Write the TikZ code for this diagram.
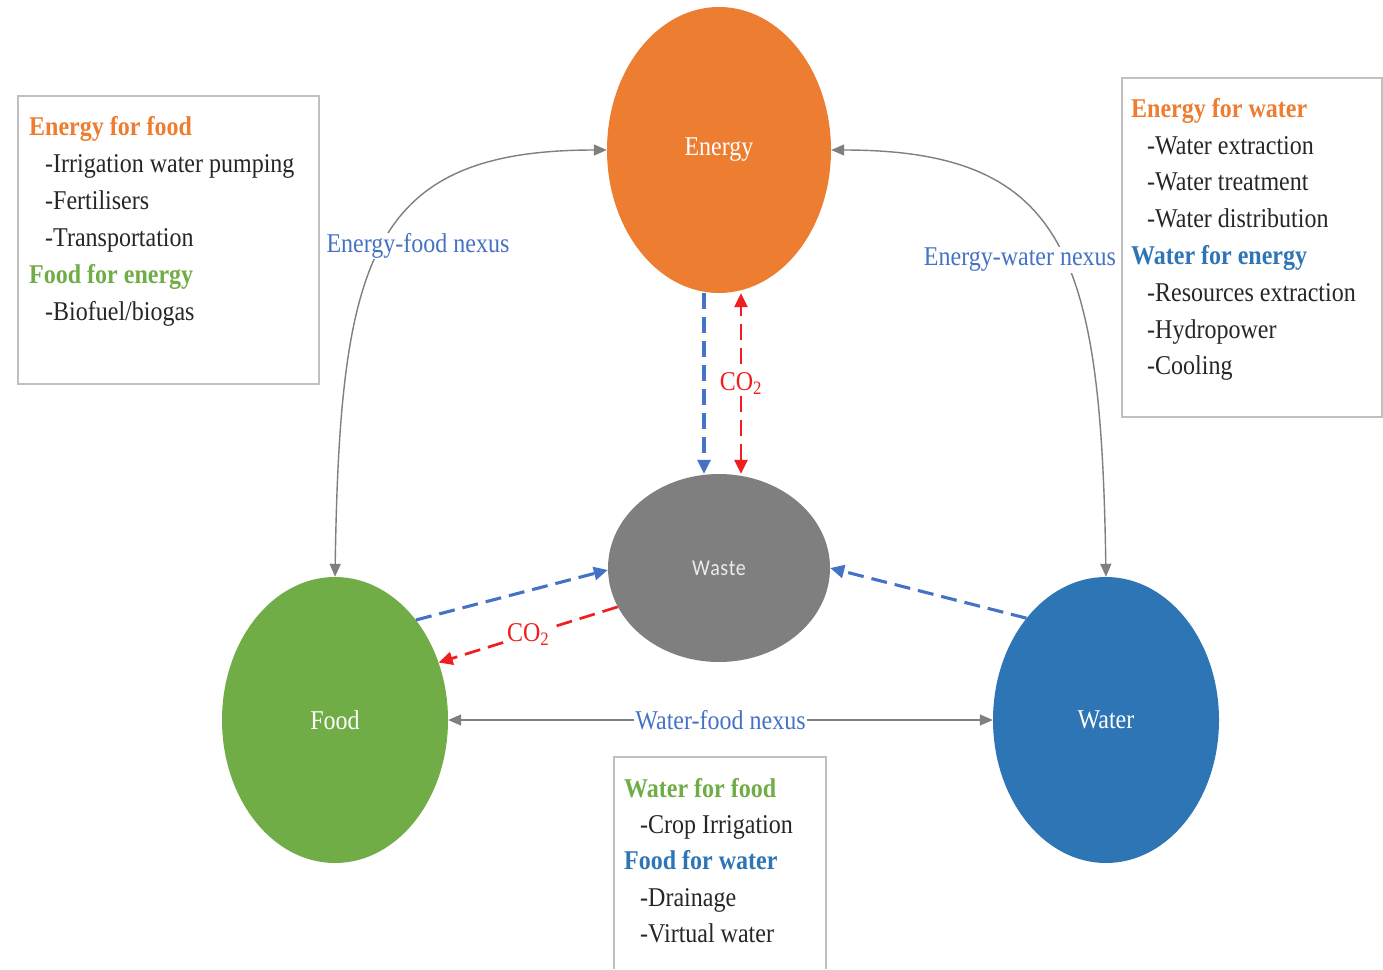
\documentclass[tikz,border=0pt]{standalone}
\usepackage{fontspec}
\usepackage{graphicx}
\setmainfont{Liberation Serif}
\newfontfamily\wastefont{Carlito}
\usetikzlibrary{shapes.geometric,arrows.meta}
\definecolor{cEnergy}{HTML}{ED7D31}
\definecolor{cFood}{HTML}{70AD47}
\definecolor{cWater}{HTML}{2E75B6}
\definecolor{cWaste}{HTML}{7F7F7F}
\definecolor{cLink}{HTML}{4472C4}
\definecolor{cRed}{HTML}{F01E1E}
\definecolor{cGrayLine}{HTML}{7F7F7F}
\definecolor{cBox}{HTML}{C0C0C0}
\definecolor{cTxt}{HTML}{262626}
\newcommand{\vs}[1]{\scalebox{1}[1.13]{#1}}
\tikzset{
  hub/.style={ellipse, inner sep=0pt, font=\fontsize{24}{28}\selectfont, text=white},
  nexus/.style={draw=cGrayLine, line width=1.4pt, {Triangle[length=13pt,width=11pt]}-{Triangle[length=13pt,width=11pt]}},
  bluedash/.style={draw=cLink, line width=3.1pt, dash pattern=on 16pt off 8pt, -{Triangle[length=14pt,width=13pt]}},
  reddash/.style={draw=cRed, line width=2.7pt, dash pattern=on 16pt off 8pt},
  redtip/.style={-{Triangle[length=14pt,width=13pt]}},
  redtips/.style={{Triangle[length=14pt,width=13pt]}-{Triangle[length=14pt,width=13pt]}},
  lbl/.style={fill=white, inner sep=1pt, text=cLink, font=\fontsize{24}{28}\selectfont},
  co2/.style={fill=white, inner sep=1pt, text=cRed, font=\fontsize{24}{28}\selectfont},
  boxframe/.style={draw=cBox, line width=1.5pt},
  boxtext/.style={align=left, inner sep=0pt, anchor=north west, text=cTxt},
}
\newcommand{\hd}[2]{\vs{\textcolor{#1}{\textbf{#2}}}}
\newcommand{\itm}[1]{\hspace*{16pt}\vs{#1}}
\begin{document}
\begin{tikzpicture}[x=1pt,y=-1pt]
\useasboundingbox[fill=white] (0,0) rectangle (1383,969);

% hubs
\node[hub, fill=cEnergy, minimum width=224pt, minimum height=286pt] (energy) at (719,150) {\vs{Energy}};
\node[hub, fill=cWaste, minimum width=222pt, minimum height=188pt, font=\wastefont\fontsize{20}{24}\selectfont, text=white!92!black] (waste) at (719,568) {\vs{W\kern0.5pt a\kern0.5pt s\kern0.5pt t\kern0.5pt e}};
\node[hub, fill=cFood, minimum width=226pt, minimum height=286pt] (food) at (335,720) {\vs{Food}};
\node[hub, fill=cWater, minimum width=226pt, minimum height=286pt] (water) at (1106,720) {\vs{Water}};

% boxes
\node[boxframe, minimum width=301pt, minimum height=288pt, inner sep=0pt] (lbox) at (168.5,240) {};
\node[boxframe, minimum width=260pt, minimum height=339pt, inner sep=0pt] (rbox) at (1252,247.5) {};
\coordinate (bboxA) at (614,969);
\coordinate (bboxB) at (614,757);
\coordinate (bboxC) at (826,757);
\coordinate (bboxD) at (826,969);
\draw[boxframe] (bboxA) -- (bboxB) -- (bboxC) -- (bboxD);

% box texts
\node[boxtext, font=\fontsize{24}{37}\selectfont] (ltext) at (29,116) {%
\hd{cEnergy}{Energy for food}\\
\itm{-Irrigation water pumping}\\
\itm{-Fertilisers}\\
\itm{-Transportation}\\
\hd{cFood}{Food for energy}\\
\itm{-Biofuel/biogas}};
\node[boxtext, font=\fontsize{24}{36.8}\selectfont] (rtext) at (1131,98) {%
\hd{cEnergy}{Energy for water}\\
\itm{-Water extraction}\\
\itm{-Water treatment}\\
\itm{-Water distribution}\\
\hd{cWater}{Water for energy}\\
\itm{-Resources extraction}\\
\itm{-Hydropower}\\
\itm{-Cooling}};
\node[boxtext, font=\fontsize{24}{36.3}\selectfont] (btext) at (624,778) {%
\hd{cFood}{Water for food}\\
\itm{-Crop Irrigation}\\
\hd{cWater}{Food for water}\\
\itm{-Drainage}\\
\itm{-Virtual water}};

% nexus connectors
\draw[nexus] (food.north) .. controls +(5,-318) and +(-237,0) .. (energy.west);
\draw[nexus] (water.north) .. controls +(-5,-318) and +(237,0) .. (energy.east);
\draw[nexus] (food.east) -- node[lbl] (wflbl) {\vs{Water-food nexus}} (water.west);
\node[lbl] (eflbl) at (418,246) {\vs{Energy-food nexus}};
\node[lbl] (ewlbl) at (1020,260) {\vs{Energy-water nexus}};

% waste flows
\draw[bluedash] ([xshift=-15pt]energy.south) -- ([xshift=-15pt]waste.north);
\draw[reddash, redtips] ([xshift=22pt]waste.north) -- node[co2] (co2a) {\vs{CO\textsubscript{2}}} ([xshift=22pt]energy.south);
\draw[bluedash] (food.51.8) -- (waste.181);
\draw[reddash, redtip] (waste.201.6) -- node[co2] (co2b) {\vs{CO\textsubscript{2}}} (food.29.6);
\draw[bluedash] (water.128.3) -- (waste.east);
\end{tikzpicture}
\end{document}
